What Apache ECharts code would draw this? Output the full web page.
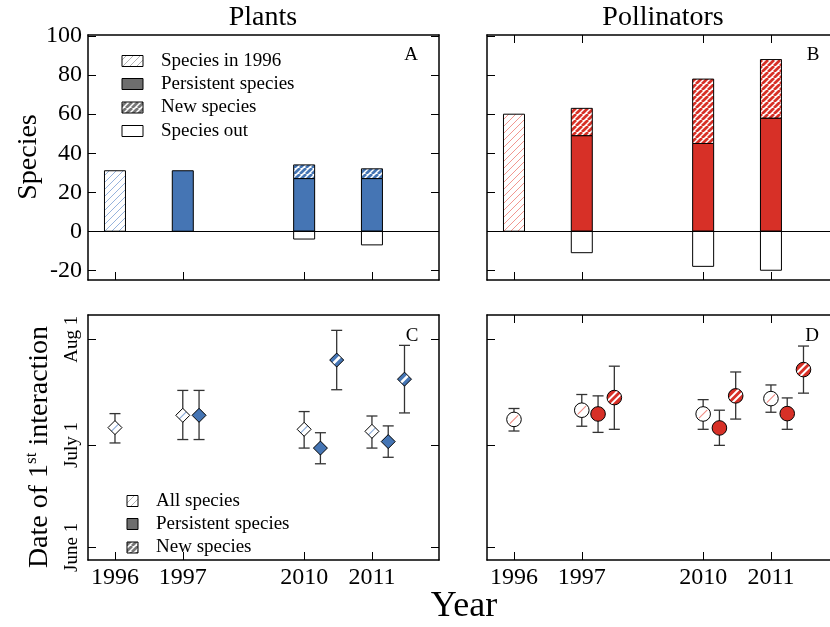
<!DOCTYPE html>
<html>
<head>
<meta charset="utf-8">
<script src="https://cdn.jsdelivr.net/npm/echarts@6/dist/echarts.min.js"></script>
<style>
  html, body { margin: 0; padding: 0; background: #fff; }
  #chart { width: 830px; height: 627px; }
</style>
</head>
<body>
<div id="chart"></div>
<script>
// ---- data ----
const years = ['1996', '1997', '2010', '2011'];
const yearPos = [0, 1, 2.79, 3.79];          // broken time axis: positions of the sampled years
const speciesTicks = [-20, 0, 20, 40, 60, 80, 100];

// Panel A: plants, species counts
const plantsIn1996     = [31, null, null, null];
const plantsPersistent = [null, 31, 27, 27];
const plantsNew        = [null, 0, 7, 5];
const plantsOut        = [null, 0, -4, -7];

// Panel B: pollinators, species counts
const pollIn1996     = [60, null, null, null];
const pollPersistent = [null, 49, 45, 58];
const pollNew        = [null, 14, 33, 30];
const pollOut        = [null, -11, -18, -20];

// Date of first interaction, in days after June 1
const dateTickValues = [0, 30, 61];
const dateTickLabels = ['June 1', 'July 1', 'Aug 1'];

const plantsAllMean  = [35.1, 38.7, 34.6, 34.0];
const plantsAllLo    = [30.6, 31.6, 29.1, 29.1];
const plantsAllHi    = [39.2, 46.0, 39.8, 38.5];
const plantsPersMean = [null, 38.7, 29.1, 31.0];
const plantsPersLo   = [null, 31.6, 24.5, 26.4];
const plantsPersHi   = [null, 46.0, 33.6, 35.6];
const plantsNewMean  = [null, null, 54.9, 49.3];
const plantsNewLo    = [null, null, 46.2, 39.4];
const plantsNewHi    = [null, null, 63.6, 59.2];

const pollAllMean  = [37.5, 40.2, 39.1, 43.6];
const pollAllLo    = [34.1, 35.5, 34.6, 39.6];
const pollAllHi    = [40.7, 44.8, 43.3, 47.6];
const pollPersMean = [null, 39.1, 35.0, 39.2];
const pollPersLo   = [null, 33.7, 29.9, 34.6];
const pollPersHi   = [null, 44.4, 40.2, 43.8];
const pollNewMean  = [null, 43.9, 44.4, 52.1];
const pollNewLo    = [null, 34.6, 37.6, 45.2];
const pollNewHi    = [null, 53.1, 51.4, 59.0];

// ---- styling ----
const FONT = "'Liberation Serif', 'Times New Roman', serif";
const BLUE = '#4575b4';
const RED = '#d73027';
const ERR = '#333333';
const X_MIN = -0.398, X_MAX = 4.779;
const GROUP_SHIFT = { all: 0, persistent: 0.24, new: 0.48 };

function makePattern(bg, fg, period, lw) {
  const c = document.createElement('canvas');
  c.width = period; c.height = period;
  const ctx = c.getContext('2d');
  ctx.fillStyle = bg; ctx.fillRect(0, 0, period, period);
  ctx.strokeStyle = fg; ctx.lineWidth = lw;
  ctx.beginPath();
  for (let k = -1; k <= 1; k++) {
    ctx.moveTo(k * period, period);
    ctx.lineTo(k * period + period, 0);
  }
  ctx.stroke();
  return { image: c, repeat: 'repeat' };
}

const pat = {
  blueThin: makePattern('#ffffff', '#8aaad8', 7, 0.9),
  blueStripe: makePattern('#ffffff', BLUE, 6, 2.7),
  redThin: makePattern('#ffffff', '#ef8c84', 7, 0.9),
  redStripe: makePattern('#ffffff', RED, 6, 2.7),
  grayThin: makePattern('#ffffff', '#a8a8a8', 7, 0.9),
  grayStripe: makePattern('#ffffff', '#777777', 6, 2.7)
};

// ---- axes ----
const grids = [
  { left: 88, top: 35, width: 351, height: 245 },   // A
  { left: 487, top: 35, width: 351, height: 245 },  // B (runs past the right edge)
  { left: 88, top: 315, width: 351, height: 245 },  // C
  { left: 487, top: 315, width: 351, height: 245 }  // D (runs past the right edge)
].map(g => Object.assign({ outerBoundsMode: 'none', containLabel: false }, g));

function yearLabel(v) {
  const i = yearPos.findIndex(p => Math.abs(p - v) < 1e-6);
  return i >= 0 ? years[i] : '';
}

const axisLineStyle = { show: true, onZero: false, lineStyle: { color: '#000', width: 1.5 } };
const tickStyle = { color: '#000', width: 1 };

const xAxis = [];
const yAxis = [];
grids.forEach((g, gi) => {
  const isBottomRow = gi >= 2;
  const topTicks = gi === 1 || gi === 3;
  xAxis.push({
    type: 'value', gridIndex: gi, position: 'bottom', min: X_MIN, max: X_MAX,
    axisLine: axisLineStyle,
    axisTick: { show: true, inside: true, length: 8, customValues: yearPos, lineStyle: tickStyle },
    axisLabel: {
      show: isBottomRow, customValues: yearPos, formatter: yearLabel,
      fontFamily: FONT, fontSize: 24, color: '#000', margin: 6
    },
    splitLine: { show: false }
  });
  xAxis.push({
    type: 'value', gridIndex: gi, position: 'top', min: X_MIN, max: X_MAX,
    axisLine: axisLineStyle,
    axisTick: { show: topTicks, inside: true, length: 8, customValues: yearPos, lineStyle: tickStyle },
    axisLabel: { show: false },
    splitLine: { show: false }
  });

  const isSpecies = gi < 2;
  const ymin = isSpecies ? -25 : -3.7;
  const ymax = isSpecies ? 100.6 : 68.1;
  const ticks = isSpecies ? speciesTicks : dateTickValues;
  const leftLabel = isSpecies
    ? { show: gi === 0, customValues: speciesTicks, fontFamily: FONT, fontSize: 24, color: '#000', margin: 6 }
    : {
        show: gi === 2, customValues: dateTickValues, rotate: 90,
        formatter: v => dateTickLabels[dateTickValues.findIndex(t => Math.abs(t - v) < 1e-6)] || '',
        fontFamily: FONT, fontSize: 19, color: '#000', margin: 6
      };
  yAxis.push({
    type: 'value', gridIndex: gi, position: 'left', min: ymin, max: ymax,
    axisLine: axisLineStyle,
    axisTick: { show: true, inside: true, length: 8, customValues: ticks, lineStyle: tickStyle },
    axisLabel: leftLabel,
    splitLine: { show: false }
  });
  yAxis.push({
    type: 'value', gridIndex: gi, position: 'right', min: ymin, max: ymax,
    axisLine: axisLineStyle,
    axisTick: { show: true, inside: true, length: 8, customValues: ticks, lineStyle: tickStyle },
    axisLabel: { show: false },
    splitLine: { show: false }
  });
});

// ---- stacked species bars ----
function barItems(in1996, persistent, added, out) {
  const items = [];
  yearPos.forEach((pos, i) => {
    if (in1996[i] != null) items.push({ kind: 'in1996', v: [pos, 0, in1996[i]] });
    if (persistent[i] != null) items.push({ kind: 'persistent', v: [pos, 0, persistent[i]] });
    if (added[i]) items.push({ kind: 'new', v: [pos, persistent[i], persistent[i] + added[i]] });
    if (out[i]) items.push({ kind: 'out', v: [pos, out[i], 0] });
  });
  return items;
}

function barSeries(gi, items, fills) {
  return {
    type: 'custom',
    xAxisIndex: gi * 2, yAxisIndex: gi * 2,
    data: items.map(d => d.v),
    renderItem: (params, api) => {
      const it = items[params.dataIndex];
      const top = api.coord([api.value(0), api.value(2)]);
      const bot = api.coord([api.value(0), api.value(1)]);
      return {
        type: 'rect',
        shape: { x: top[0] - 10.5, y: top[1], width: 21, height: bot[1] - top[1] },
        style: { fill: fills[it.kind], stroke: '#000', lineWidth: 1 }
      };
    },
    markLine: {
      silent: true, symbol: 'none', animation: false,
      label: { show: false },
      lineStyle: { color: '#000', width: 1, type: 'solid' },
      data: [{ yAxis: 0 }]
    }
  };
}

// ---- first-interaction dates with error bars ----
function dateItems(groups) {
  const items = [];
  groups.forEach(gr => {
    yearPos.forEach((pos, i) => {
      if (gr.mean[i] == null) return;
      items.push({ kind: gr.kind, v: [pos + GROUP_SHIFT[gr.kind], gr.mean[i], gr.lo[i], gr.hi[i]] });
    });
  });
  return items;
}

function stripeSegments(cx, cy, r, offsets) {
  // "/" direction chords of a circle of radius r
  const ux = Math.SQRT1_2, uy = -Math.SQRT1_2;       // along the stripe
  const nx = Math.SQRT1_2, ny = Math.SQRT1_2;        // across the stripe
  return offsets.map(d => {
    const half = Math.sqrt(Math.max(r * r - d * d, 0));
    const mx = cx + nx * d, my = cy + ny * d;
    return [mx - ux * half, my - uy * half, mx + ux * half, my + uy * half];
  });
}

function markerShape(shape, kind, color, light, cx, cy) {
  const out = [];
  if (shape === 'diamond') {
    const w = 7, h = 7;
    const pts = [[cx, cy - h], [cx + w, cy], [cx, cy + h], [cx - w, cy]];
    out.push({ type: 'polygon', shape: { points: pts }, style: { fill: kind === 'all' ? '#fff' : color, stroke: 'none' } });
    if (kind === 'all') {
      out.push({ type: 'line', shape: { x1: cx - w / 2, y1: cy + h / 2, x2: cx + w / 2, y2: cy - h / 2 }, style: { stroke: light, lineWidth: 1.1 } });
    } else if (kind === 'new') {
      out.push({ type: 'line', shape: { x1: cx - w / 2, y1: cy + h / 2, x2: cx + w / 2, y2: cy - h / 2 }, style: { stroke: '#fff', lineWidth: 2.6 } });
    }
    out.push({ type: 'polygon', shape: { points: pts }, style: { fill: 'none', stroke: '#000', lineWidth: 1 } });
  } else {
    const r = 7.3;
    out.push({ type: 'circle', shape: { cx, cy, r }, style: { fill: kind === 'all' ? '#fff' : color, stroke: 'none' } });
    if (kind === 'all') {
      stripeSegments(cx, cy, r * 0.8, [0]).forEach(s => out.push({
        type: 'line', shape: { x1: s[0], y1: s[1], x2: s[2], y2: s[3] }, style: { stroke: light, lineWidth: 1.1 }
      }));
    } else if (kind === 'new') {
      stripeSegments(cx, cy, r, [-2.4, 2.4]).forEach(s => out.push({
        type: 'line', shape: { x1: s[0], y1: s[1], x2: s[2], y2: s[3] }, style: { stroke: '#fff', lineWidth: 2 }
      }));
    }
    out.push({ type: 'circle', shape: { cx, cy, r }, style: { fill: 'none', stroke: '#000', lineWidth: 1 } });
  }
  return out;
}

function dateSeries(gi, items, shape, color, light) {
  return {
    type: 'custom',
    xAxisIndex: gi * 2, yAxisIndex: gi * 2,
    data: items.map(d => d.v),
    renderItem: (params, api) => {
      const it = items[params.dataIndex];
      const x = api.value(0);
      const c = api.coord([x, api.value(1)]);
      const lo = api.coord([x, api.value(2)]);
      const hi = api.coord([x, api.value(3)]);
      const cap = 5.5;
      const es = { stroke: ERR, lineWidth: 1.3 };
      const children = [
        { type: 'line', shape: { x1: c[0], y1: hi[1], x2: c[0], y2: lo[1] }, style: es },
        { type: 'line', shape: { x1: c[0] - cap, y1: hi[1], x2: c[0] + cap, y2: hi[1] }, style: es },
        { type: 'line', shape: { x1: c[0] - cap, y1: lo[1], x2: c[0] + cap, y2: lo[1] }, style: es }
      ].concat(markerShape(shape, it.kind, color, light, c[0], c[1]));
      return { type: 'group', children };
    }
  };
}

const series = [
  barSeries(0, barItems(plantsIn1996, plantsPersistent, plantsNew, plantsOut),
    { in1996: pat.blueThin, persistent: BLUE, new: pat.blueStripe, out: '#fff' }),
  barSeries(1, barItems(pollIn1996, pollPersistent, pollNew, pollOut),
    { in1996: pat.redThin, persistent: RED, new: pat.redStripe, out: '#fff' }),
  dateSeries(2, dateItems([
    { kind: 'all', mean: plantsAllMean, lo: plantsAllLo, hi: plantsAllHi },
    { kind: 'persistent', mean: plantsPersMean, lo: plantsPersLo, hi: plantsPersHi },
    { kind: 'new', mean: plantsNewMean, lo: plantsNewLo, hi: plantsNewHi }
  ]), 'diamond', BLUE, '#8aaad8'),
  dateSeries(3, dateItems([
    { kind: 'all', mean: pollAllMean, lo: pollAllLo, hi: pollAllHi },
    { kind: 'persistent', mean: pollPersMean, lo: pollPersLo, hi: pollPersHi },
    { kind: 'new', mean: pollNewMean, lo: pollNewLo, hi: pollNewHi }
  ]), 'circle', RED, '#ef8c84')
];

// ---- titles, axis names, legends ----
function txt(text, x, y, size, extra) {
  return Object.assign({
    type: 'text', x, y,
    style: { text, fontFamily: FONT, fontSize: size, fill: '#000', align: 'center', verticalAlign: 'middle' }
  }, extra || {});
}

const speciesLegend = [
  { label: 'Species in 1996', fill: pat.grayThin },
  { label: 'Persistent species', fill: '#6e6e6e' },
  { label: 'New species', fill: pat.grayStripe },
  { label: 'Species out', fill: '#ffffff' }
];
const speciesLegendY = [61, 84, 107.5, 131];
const dateLegend = [
  { label: 'All species', fill: pat.grayThin },
  { label: 'Persistent species', fill: '#6e6e6e' },
  { label: 'New species', fill: pat.grayStripe }
];
const dateLegendY = [501, 524, 547.5];

const graphic = [
  txt('Plants', 263, 18, 28),
  txt('Pollinators', 663, 18, 28),
  txt('Year', 464, 607, 36),
  txt('Species', 29, 157, 28, { rotation: Math.PI / 2 }),
  {
    type: 'text', x: 40, y: 447, rotation: Math.PI / 2,
    style: {
      text: '{n|Date of 1}{s|st}{n| interaction}',
      fontFamily: FONT, fill: '#000', align: 'center', verticalAlign: 'middle',
      rich: {
        n: { fontFamily: FONT, fontSize: 28, lineHeight: 34 },
        s: { fontFamily: FONT, fontSize: 17, lineHeight: 17, verticalAlign: 'top' }
      }
    }
  },
  txt('A', 411, 55, 19),
  txt('B', 813, 55, 19),
  txt('C', 412, 336, 19),
  txt('D', 812, 336, 19)
];

speciesLegend.forEach((it, i) => {
  graphic.push({ type: 'rect', shape: { x: 122, y: speciesLegendY[i] - 5.5, width: 21, height: 11 },
    style: { fill: it.fill, stroke: '#000', lineWidth: 1 } });
  graphic.push({ type: 'text', x: 161, y: speciesLegendY[i],
    style: { text: it.label, fontFamily: FONT, fontSize: 19, fill: '#000', align: 'left', verticalAlign: 'middle' } });
});
dateLegend.forEach((it, i) => {
  graphic.push({ type: 'rect', shape: { x: 127, y: dateLegendY[i] - 5.5, width: 11, height: 11 },
    style: { fill: it.fill, stroke: '#000', lineWidth: 1 } });
  graphic.push({ type: 'text', x: 156, y: dateLegendY[i],
    style: { text: it.label, fontFamily: FONT, fontSize: 19, fill: '#000', align: 'left', verticalAlign: 'middle' } });
});

const chart = echarts.init(document.getElementById('chart'), null, { renderer: 'canvas' });
chart.setOption({
  animation: false,
  backgroundColor: '#fff',
  grid: grids,
  xAxis,
  yAxis,
  series,
  graphic
});
</script>
</body>
</html>
